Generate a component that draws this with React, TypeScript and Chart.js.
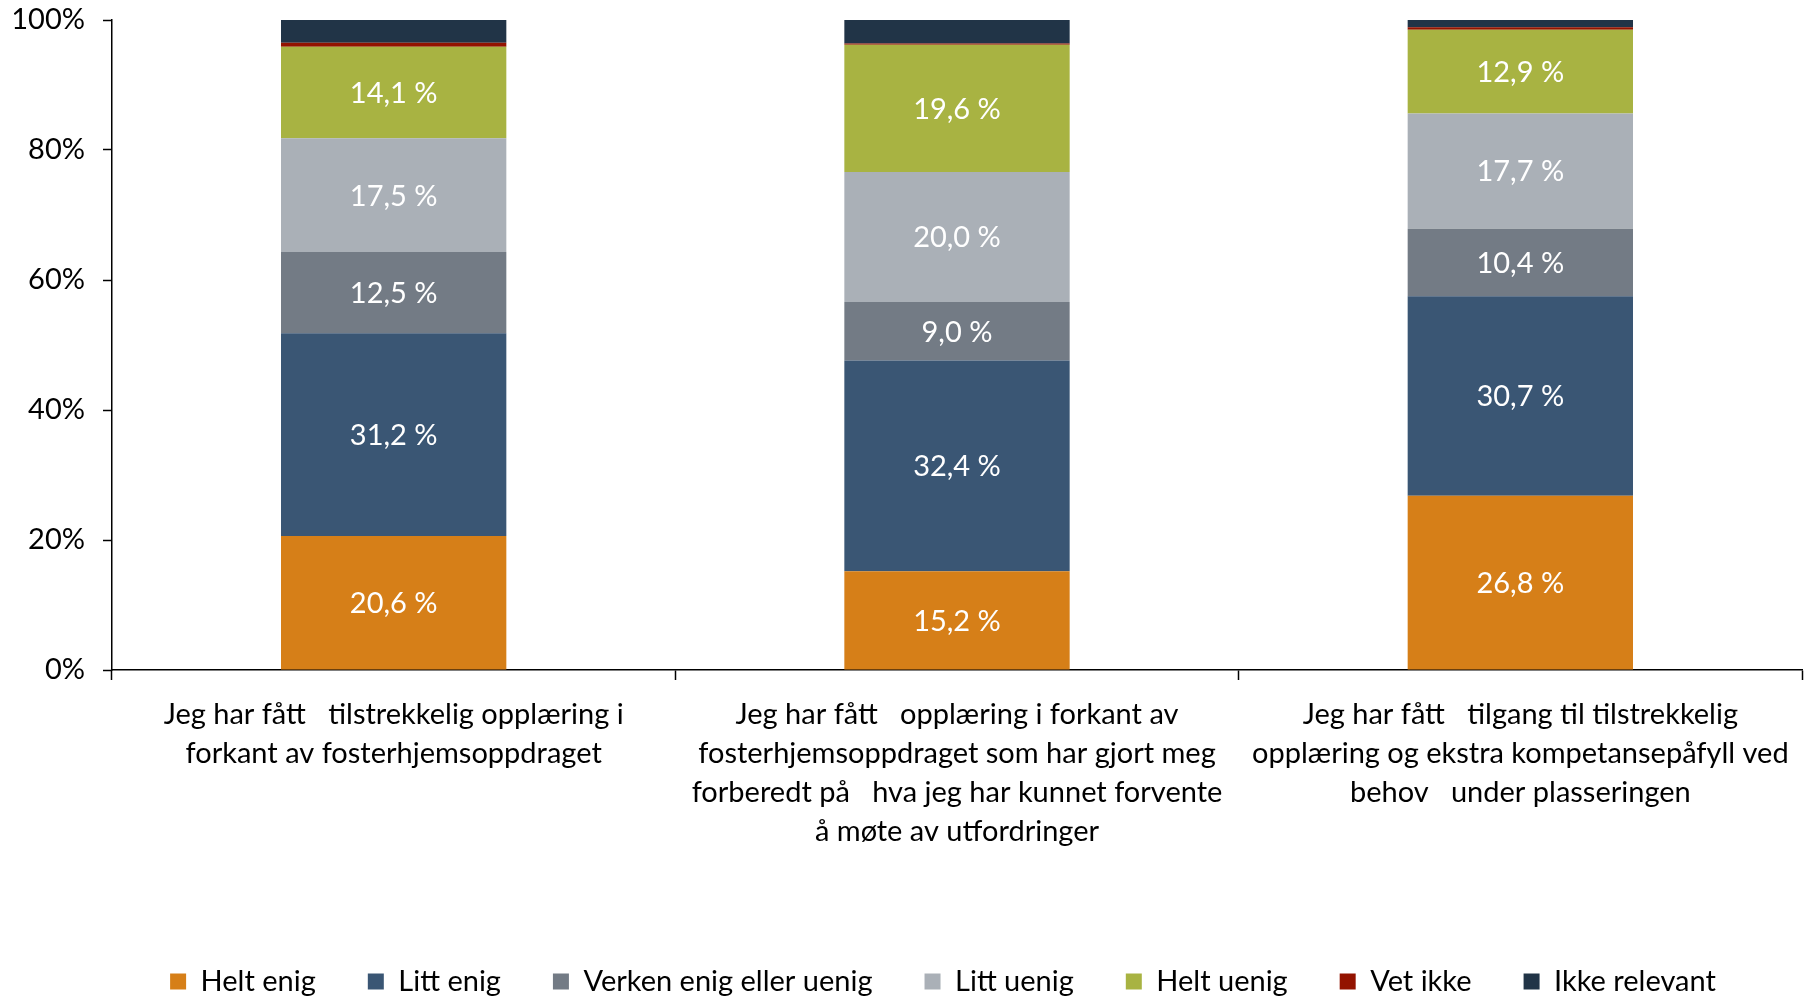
import React, { useEffect, useRef } from "react";
import { Chart, registerables } from "chart.js";

Chart.register(...registerables);

const categories: string[][] = [
  ["Jeg har fått   tilstrekkelig opplæring i", "forkant av fosterhjemsoppdraget"],
  [
    "Jeg har fått   opplæring i forkant av",
    "fosterhjemsoppdraget som har gjort meg",
    "forberedt på   hva jeg har kunnet forvente",
    "å møte av utfordringer",
  ],
  [
    "Jeg har fått   tilgang til tilstrekkelig",
    "opplæring og ekstra kompetansepåfyll ved",
    "behov   under plasseringen",
  ],
];

const seriesNames = [
  "Helt enig",
  "Litt enig",
  "Verken enig eller uenig",
  "Litt uenig",
  "Helt uenig",
  "Vet ikke",
  "Ikke relevant",
];

const heltEnig = [20.6, 15.2, 26.8];
const littEnig = [31.2, 32.4, 30.7];
const verken = [12.5, 9.0, 10.4];
const littUenig = [17.5, 20.0, 17.7];
const heltUenig = [14.1, 19.6, 12.9];
const vetIkke = [0.6, 0.2, 0.4];
const ikkeRelevant = [3.5, 3.6, 1.1];

const seriesColors = [
  "#D67F18",
  "#3A5674",
  "#737B85",
  "#AAB0B7",
  "#A8B342",
  "#931300",
  "#213447",
];

const labeledSeries = [0, 1, 2, 3, 4];

const yTicks = [0, 20, 40, 60, 80, 100];

const FONT = "Lato";

const valueLabels = {
  id: "valueLabels",
  afterDatasetsDraw(chart: any) {
    const ctx = chart.ctx;
    ctx.save();
    ctx.fillStyle = "#ffffff";
    ctx.font = `29px ${FONT}`;
    ctx.textAlign = "center";
    ctx.textBaseline = "middle";
    labeledSeries.forEach((di) => {
      const meta = chart.getDatasetMeta(di);
      const data = chart.data.datasets[di].data as number[];
      meta.data.forEach((el: any, i: number) => {
        const v = data[i];
        const y = (el.y + el.base) / 2;
        ctx.fillText(v.toFixed(1).replace(".", ",") + " %", el.x, y + 1);
      });
    });
    ctx.restore();
  },
};

const legendShift = {
  id: "legendShift",
  afterLayout(chart: any) {
    const lg = chart.legend;
    if (lg) {
      lg.left += 35;
      lg.right += 35;
    }
  },
};

export default function App() {
  const ref = useRef<HTMLCanvasElement | null>(null);

  useEffect(() => {
    if (!ref.current) return;
    const allData = [heltEnig, littEnig, verken, littUenig, heltUenig, vetIkke, ikkeRelevant];
    const chart = new Chart(ref.current, {
      type: "bar",
      data: {
        labels: categories as any,
        datasets: allData.map((d, i) => ({
          label: seriesNames[i],
          data: d,
          backgroundColor: seriesColors[i],
          borderWidth: 0,
          barPercentage: 0.4,
          categoryPercentage: 1,
        })),
      },
      options: {
        animation: false,
        responsive: true,
        maintainAspectRatio: false,
        layout: { padding: { top: 20, left: 14, right: 4, bottom: 0 } },
        plugins: {
          legend: {
            position: "bottom",
            labels: {
              boxWidth: 16,
              boxHeight: 16,
              padding: 52,
              color: "#000",
              font: { family: FONT, size: 29 },
            },
          },
          tooltip: { enabled: false },
        },
        scales: {
          x: {
            stacked: true,
            grid: {
              offset: true,
              drawOnChartArea: false,
              tickLength: 10,
              color: "#000",
              tickWidth: 1.5,
            },
            border: { color: "#000", width: 1.5 },
            ticks: {
              color: "#000",
              padding: 15,
              maxRotation: 0,
              autoSkip: false,
              font: { family: FONT, size: 29, lineHeight: 1.345 },
            },
            afterFit: (s: any) => {
              s.height = 245;
            },
          },
          y: {
            stacked: true,
            min: 0,
            max: 100,
            afterBuildTicks: (s: any) => {
              s.ticks = yTicks.map((v) => ({ value: v }));
            },
            afterFit: (s: any) => {
              s.width = 98;
              s.paddingTop = 0;
              s.paddingBottom = 0;
            },
            grid: {
              drawOnChartArea: false,
              tickLength: 9,
              color: "#000",
              tickWidth: 1.5,
            },
            border: { color: "#000", width: 1.5 },
            ticks: {
              color: "#000",
              padding: 18,
              font: { family: FONT, size: 29 },
              callback: (v: any) => `${v}%`,
            },
          },
        },
      },
      plugins: [valueLabels, legendShift],
    });
    return () => chart.destroy();
  }, []);

  return (
    <div style={{ position: "fixed", left: 0, top: 0, width: 1806, height: 1006, background: "#fff" }}>
      <canvas ref={ref} />
    </div>
  );
}
